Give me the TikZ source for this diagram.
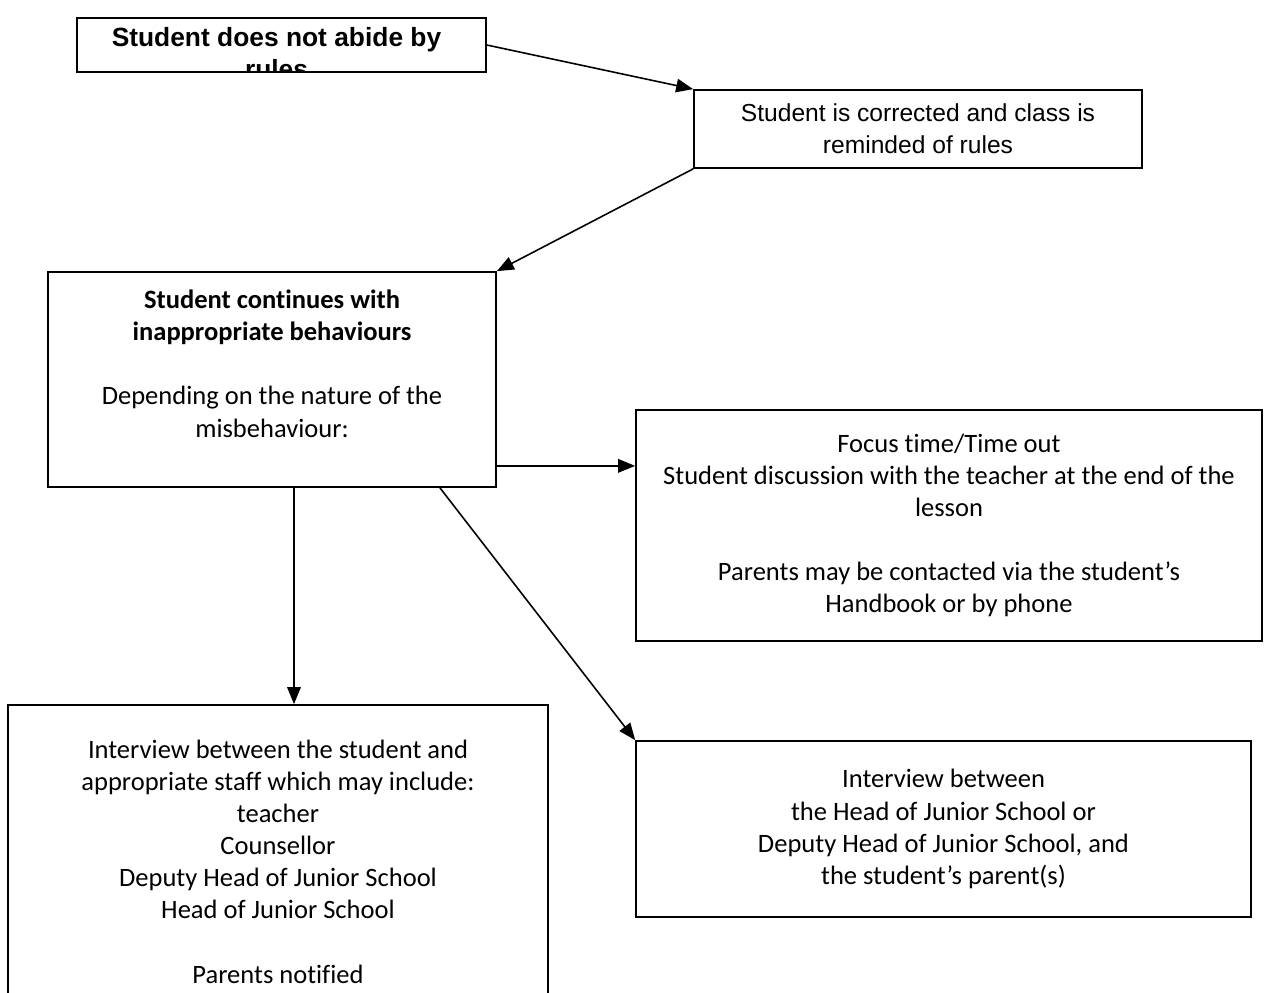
\documentclass[tikz,border=0pt]{standalone}
\usepackage{fontspec}
\setmainfont{Carlito}[Ligatures=NoCommon]
\newfontfamily\arialfont{Liberation Sans}
\usetikzlibrary{arrows.meta}

\begin{document}
\begin{tikzpicture}[x=0.02cm, y=-0.02cm,
  box/.style={draw, line width=1pt, align=center, inner sep=0pt},
  cal/.style={box, font=\fontsize{15.1}{18.3}\selectfont},
  ari/.style={box, font=\arialfont\fontsize{14}{18.3}\selectfont},
  arr/.style={-{Triangle[length=0.34cm, width=0.27cm]}, line width=0.9pt},
]
\clip (0,0) rectangle (1264,992);

% top box: its second line is cut off by the frame
\node[box, minimum width=8.18cm, minimum height=1.08cm,
  path picture={\node[draw=none, align=center, font=\arialfont\bfseries\fontsize{15}{18.3}\selectfont]
    at ([xshift=-0.1cm, yshift=-0.16cm]path picture bounding box.center) {Student does not abide by\\rules};}]
  (start) at (281.5,45) {};

\node[ari, minimum width=8.96cm, minimum height=1.56cm] (corrected) at (918,129)
  {Student is corrected and class is\\reminded of rules};

\node[cal, minimum width=8.96cm, minimum height=4.3cm] (continues) at (272,379.5)
  {\textbf{Student continues with}\\\textbf{inappropriate behaviours}\\[18.3pt]
   Depending on the nature of the\\misbehaviour:\\ \mbox{}};

\node[cal, minimum width=12.52cm, minimum height=4.62cm] (focus) at (949,525.5)
  {Focus time/Time out\\Student discussion with the teacher at the end of the\\lesson\\[18.3pt]
   Parents may be contacted via the student’s\\Handbook or by phone};

\node[cal, minimum width=10.8cm, minimum height=6.26cm] (staff) at (278,861.5)
  {Interview between the student and\\appropriate staff which may include:\\teacher\\Counsellor\\
   Deputy Head of Junior School\\Head of Junior School\\[18.3pt]Parents notified};

\node[cal, minimum width=12.3cm, minimum height=3.52cm] (parents) at (943.5,829)
  {Interview between\\the Head of Junior School or\\Deputy Head of Junior School, and\\
   the student’s parent(s)};

\coordinate (out-right) at ([yshift=0.44cm]continues.south east);
\coordinate (out-down)  at ([xshift=0.44cm]continues.south);
\coordinate (out-diag)  at ([xshift=3.36cm]continues.south);

\draw[arr] (start.east) -- (corrected.north west);
\draw[arr] (corrected.south west) -- (continues.north east);
\draw[arr] (out-right) -- (out-right -| focus.west);
\draw[arr] (out-down) -- (out-down |- staff.north);
\draw[arr] (out-diag) -- (parents.north west);
\end{tikzpicture}
\end{document}
